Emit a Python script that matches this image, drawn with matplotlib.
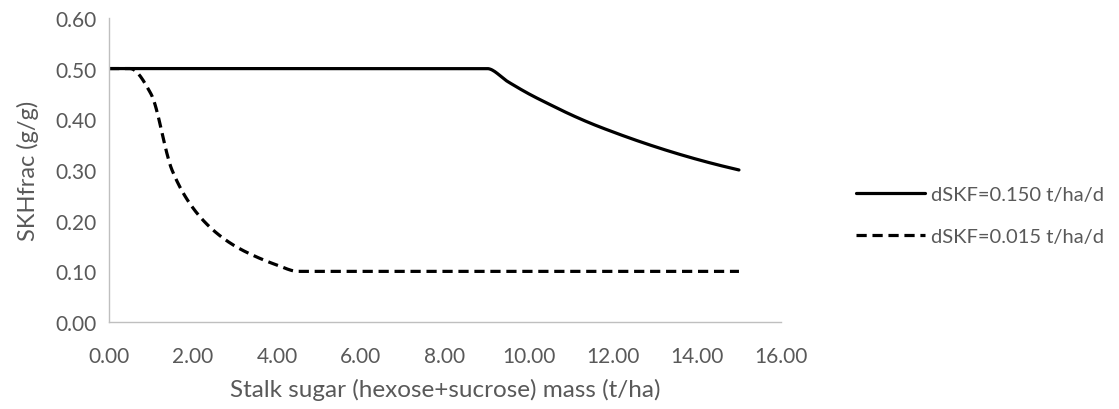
import matplotlib
matplotlib.use("Agg")
import matplotlib.pyplot as plt
import numpy as np

# stalk sugar mass (t/ha) sampled every 0.5 t/ha
sugar_mass = [0.0, 0.5, 1.0, 1.5, 2.0, 2.5, 3.0, 3.5, 4.0, 4.5, 5.0, 5.5,
              6.0, 6.5, 7.0, 7.5, 8.0, 8.5, 9.0, 9.5, 10.0, 10.5, 11.0, 11.5,
              12.0, 12.5, 13.0, 13.5, 14.0, 14.5, 15.0]

skh_fast = [0.50, 0.50, 0.50, 0.50, 0.50, 0.50, 0.50, 0.50, 0.50, 0.50, 0.50,
            0.50, 0.50, 0.50, 0.50, 0.50, 0.50, 0.50, 0.50, 0.474, 0.450,
            0.429, 0.409, 0.391, 0.375, 0.360, 0.346, 0.333, 0.321, 0.310, 0.300]

skh_slow = [0.50, 0.50, 0.45, 0.30, 0.225, 0.18, 0.15, 0.129, 0.1125, 0.10,
            0.10, 0.10, 0.10, 0.10, 0.10, 0.10, 0.10, 0.10, 0.10, 0.10, 0.10,
            0.10, 0.10, 0.10, 0.10, 0.10, 0.10, 0.10, 0.10, 0.10, 0.10]

series_labels = ["dSKF=0.150 t/ha/d", "dSKF=0.015 t/ha/d"]
x_ticks = [0, 2, 4, 6, 8, 10, 12, 14, 16]
y_ticks = [0.0, 0.1, 0.2, 0.3, 0.4, 0.5, 0.6]

TEXT = "#595959"
AXIS = "#bfbfbf"
plt.rcParams["font.family"] = ["Lato", "DejaVu Sans"]


def smooth(x, y, n=16):
    """Monotone cubic (Fritsch-Carlson) through the points, no overshoot."""
    x = np.asarray(x, float)
    y = np.asarray(y, float)
    h = np.diff(x)
    d = np.diff(y) / h
    m = np.zeros_like(y)
    m[0], m[-1] = d[0], d[-1]
    for i in range(1, len(x) - 1):
        if d[i - 1] * d[i] <= 0:
            m[i] = 0.0
        else:
            w1 = 2 * h[i] + h[i - 1]
            w2 = h[i] + 2 * h[i - 1]
            m[i] = (w1 + w2) / (w1 / d[i - 1] + w2 / d[i])
    xs, ys = [], []
    t = np.linspace(0, 1, n, endpoint=False)
    for i in range(len(x) - 1):
        h00 = 2 * t**3 - 3 * t**2 + 1
        h10 = t**3 - 2 * t**2 + t
        h01 = -2 * t**3 + 3 * t**2
        h11 = t**3 - t**2
        xs.append(x[i] + t * h[i])
        ys.append(h00 * y[i] + h10 * h[i] * m[i] + h01 * y[i + 1] + h11 * h[i] * m[i + 1])
    xs.append([x[-1]])
    ys.append([y[-1]])
    return np.concatenate(xs), np.concatenate(ys)


fig = plt.figure(figsize=(11.19, 4.10), dpi=100)
ax = fig.add_axes([0.0974, 0.212, 0.6005, 0.742])

sx, sy = smooth(sugar_mass, skh_fast)
ax.plot(sx, sy, color="black", lw=2.3, solid_capstyle="round",
        label=series_labels[0])
sx, sy = smooth(sugar_mass, skh_slow)
ax.plot(sx, sy, color="black", lw=2.3, dashes=(3.2, 1.8),
        dash_capstyle="butt", label=series_labels[1])

ax.set_xlim(0, 16)
ax.set_ylim(0, 0.6)
ax.set_xticks(x_ticks)
ax.set_yticks(y_ticks)
ax.set_xticklabels([f"{v:.2f}" for v in x_ticks])
ax.set_yticklabels([f"{v:.2f}" for v in y_ticks])
ax.tick_params(axis="x", length=0, labelsize=15, colors=TEXT, pad=17)
ax.tick_params(axis="y", length=0, labelsize=15, colors=TEXT, pad=9)

for side in ["top", "right"]:
    ax.spines[side].set_visible(False)
for side in ["left", "bottom"]:
    ax.spines[side].set_color(AXIS)
    ax.spines[side].set_linewidth(1.0)

ax.set_xlabel("Stalk sugar (hexose+sucrose) mass (t/ha)", fontsize=17.5,
              color=TEXT, labelpad=9)
ax.set_ylabel("SKHfrac (g/g)", fontsize=17, color=TEXT, labelpad=12)

leg = fig.legend(loc="center left", bbox_to_anchor=(0.765, 0.472),
                 frameon=False, fontsize=14.5, handlelength=3.4,
                 handletextpad=0.3, labelspacing=1.25, borderpad=0,
                 borderaxespad=0)
for txt in leg.get_texts():
    txt.set_color(TEXT)

fig.savefig("out.png", dpi=100)
